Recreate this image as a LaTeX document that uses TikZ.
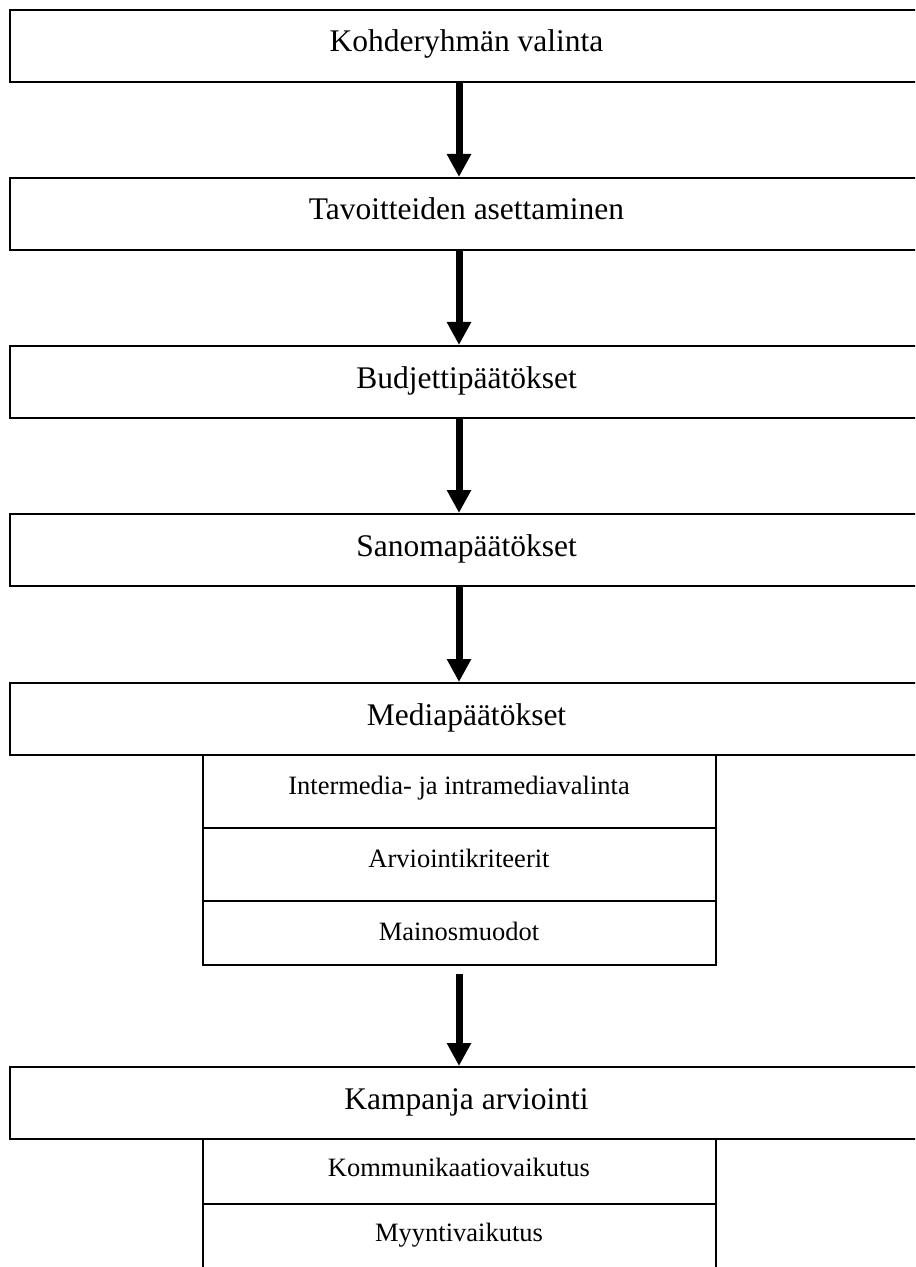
\documentclass[tikz,border=0pt]{standalone}
\usepackage{fontspec}
\setmainfont{Liberation Serif}
\usetikzlibrary{arrows.meta,positioning}

\tikzset{
  stage/.style={draw, rectangle, line width=1pt, inner sep=0pt,
    minimum width=457pt, text height=21pt, text depth=15pt,
    font=\fontsize{15.75}{18}\selectfont},
  substage/.style={draw, rectangle, line width=1pt, inner sep=0pt,
    minimum width=256.5pt, text height=19.5pt, text depth=17pt,
    font=\fontsize{13.25}{16}\selectfont},
  flow/.style={line width=3.5pt, -{Triangle[length=11.5pt, width=11.5pt]}}
}

\begin{document}
\begin{tikzpicture}[x=0.5pt, y=-0.5pt]
  \useasboundingbox (0,0) rectangle (915,1267);
  \clip (0,0) rectangle (915,1267);

  \node[stage, anchor=north] (kohde)   at (466.5,9)   {Kohderyhmän valinta};
  \node[stage, anchor=north] (tavoite) at (466.5,177) {Tavoitteiden asettaminen};
  \node[stage, anchor=north] (budjetti) at (466.5,345) {Budjettipäätökset};
  \node[stage, anchor=north] (sanoma)  at (466.5,513) {Sanomapäätökset};
  \node[stage, anchor=north] (media)   at (466.5,682) {Mediapäätökset};
  \node[substage, below=-1pt of media, xshift=-3.75pt] (valinta) {Intermedia- ja intramediavalinta};
  \node[substage, below=-1pt of valinta] (kriteerit) {Arviointikriteerit};
  \node[substage, below=-1pt of kriteerit, text depth=12.5pt] (muodot) {Mainosmuodot};
  \node[stage, anchor=north] (kampanja) at (466.5,1066) {Kampanja arviointi};
  \node[substage, below=-1pt of kampanja, xshift=-3.75pt, text height=18.5pt, text depth=14pt] (kommunikaatio) {Kommunikaatiovaikutus};
  \node[substage, below=-1pt of kommunikaatio, text height=18.5pt, text depth=16pt] (myynti) {Myyntivaikutus};

  % vaiheiden väliset nuolet
  \draw[flow] ([xshift=-3.75pt]kohde.south) -- ([xshift=-3.75pt]tavoite.north);
  \draw[flow] ([xshift=-3.75pt]tavoite.south) -- ([xshift=-3.75pt]budjetti.north);
  \draw[flow] ([xshift=-3.75pt]budjetti.south) -- ([xshift=-3.75pt]sanoma.north);
  \draw[flow] ([xshift=-3.75pt]sanoma.south) -- ([xshift=-3.75pt]media.north);
  \draw[flow] ([yshift=-4pt]muodot.south) -- ([xshift=-3.75pt]kampanja.north);
\end{tikzpicture}
\end{document}
